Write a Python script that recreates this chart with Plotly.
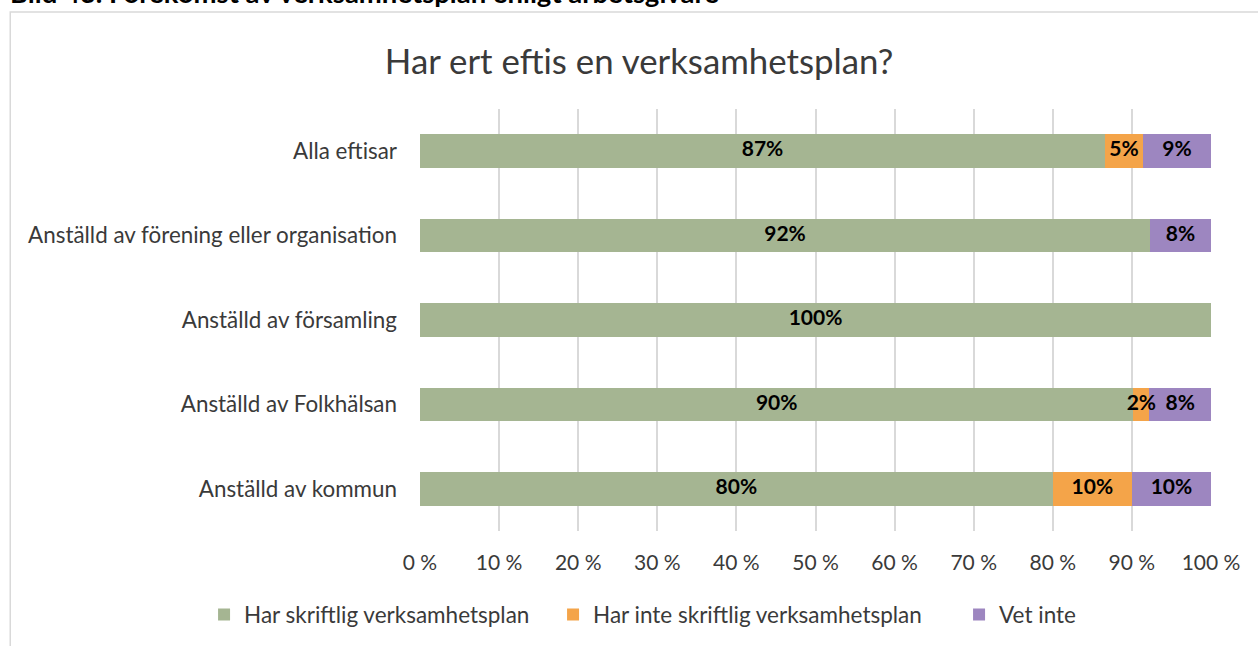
import plotly.graph_objects as go

# Survey answers per employer group (percent of respondents)
categories = [
    "Alla eftisar",
    "Anställd av förening eller organisation",
    "Anställd av församling",
    "Anställd av Folkhälsan",
    "Anställd av kommun",
]
har_plan = [86.6, 92.3, 100.0, 90.2, 80.0]
har_inte_plan = [4.8, 0.0, 0.0, 2.0, 10.0]
vet_inte = [8.6, 7.7, 0.0, 7.8, 10.0]

tick_values = list(range(0, 101, 10))
tick_labels = [f"{v} %" for v in tick_values]

# name, values, colour, width reserved for the legend entry text
series = [
    ("Har skriftlig verksamhetsplan", har_plan, "#A5B592", 304),
    ("Har inte skriftlig verksamhetsplan", har_inte_plan, "#F4A449", 361),
    ("Vet inte", vet_inte, "#9D86C0", 100),
]

FONT = "Lato, 'Open Sans', sans-serif"
TEXT = "#3a3a3a"

fig = go.Figure()
for name, vals, color, lw in series:
    fig.add_trace(go.Bar(
        y=categories,
        x=vals,
        name=name,
        orientation="h",
        marker=dict(color=color, line=dict(width=0)),
        legendwidth=lw,
        hoverinfo="skip",
    ))

# Segment value labels, centred in each segment and drawn above all bars
label_x, label_y, label_text = [], [], []
for i, cat in enumerate(categories):
    start = 0.0
    for _, vals, _, _ in series:
        v = vals[i]
        if v > 0:
            label_x.append(start + v / 2)
            label_y.append(cat)
            label_text.append(f"{v:.0f}%")
        start += v
fig.add_trace(go.Scatter(
    x=label_x, y=label_y, text=label_text,
    mode="text", textposition="middle center",
    textfont=dict(family=FONT, size=21, color="#000000", weight="bold"),
    showlegend=False, hoverinfo="skip", cliponaxis=False,
))

fig.update_layout(
    barmode="stack",
    bargap=0.6,
    width=1258,
    height=646,
    margin=dict(l=420, r=47, t=109, b=115, autoexpand=False),
    paper_bgcolor="white",
    plot_bgcolor="white",
    font=dict(family=FONT, color=TEXT, size=21),
    title=dict(
        text="Har ert eftis en verksamhetsplan?",
        x=0.508, xanchor="center",
        y=0.905, yanchor="middle",
        font=dict(family=FONT, size=34.8, color=TEXT),
    ),
    legend=dict(
        orientation="h",
        xref="paper", x=-0.273, xanchor="left",
        yref="paper", y=-0.199, yanchor="middle",
        font=dict(family=FONT, size=22.5, color=TEXT),
        traceorder="normal",
        itemwidth=30,
        borderwidth=0,
    ),
    showlegend=True,
)

fig.update_xaxes(
    range=[0, 100],
    tickmode="array",
    tickvals=tick_values,
    ticktext=tick_labels,
    showgrid=True,
    gridcolor="#d9d9d9",
    gridwidth=1.5,
    zeroline=False,
    showline=False,
    ticks="",
    ticklabelstandoff=17,
    tickfont=dict(family=FONT, size=21, color=TEXT),
    fixedrange=True,
)
fig.update_yaxes(
    autorange="reversed",
    showgrid=False,
    zeroline=False,
    showline=False,
    ticks="",
    ticklabelstandoff=22,
    tickfont=dict(family=FONT, size=22.4, color=TEXT),
    fixedrange=True,
)

# Frame around the chart area and the figure caption above it
fig.add_shape(
    type="rect", xref="paper", yref="paper",
    x0=-0.518, x1=1.2, y0=-0.5, y1=1.23,
    line=dict(color="#d9d9d9", width=1.5),
    fillcolor="rgba(0,0,0,0)", layer="below",
)
fig.add_annotation(
    text="Bild 43. Förekomst av verksamhetsplan enligt arbetsgivare",
    xref="paper", yref="paper",
    x=-0.521, xanchor="left",
    y=1.232, yanchor="bottom",
    showarrow=False,
    font=dict(family=FONT, size=27.5, color="#000000", weight="bold"),
)

fig.write_html("out.html")
